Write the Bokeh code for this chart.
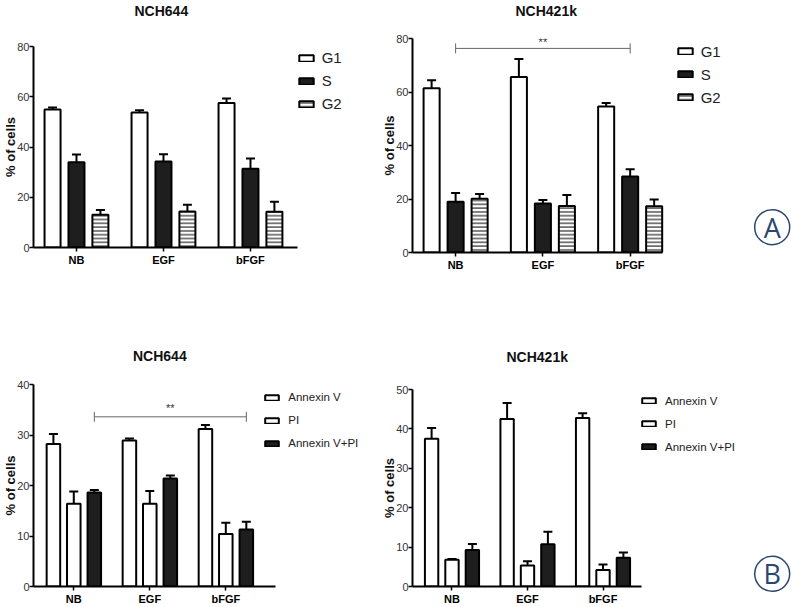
from bokeh.plotting import figure
from bokeh.models import (ColumnDataSource, Whisker, TeeHead, Legend, LegendItem, Label,
                          FixedTicker, Range1d, Title)
from bokeh.layouts import row, column
from bokeh.embed import file_html
from bokeh.resources import INLINE
from bokeh.core.properties import value

# ---------------- data ----------------
groups = ["NB", "EGF", "bFGF"]

cycle_names = ["G1", "S", "G2"]
nch644_g1 = [54.9, 53.7, 57.5]
nch644_g1_err = [0.8, 0.9, 1.8]
nch644_s = [33.9, 34.2, 31.3]
nch644_s_err = [3.1, 2.9, 4.1]
nch644_g2 = [13.0, 14.3, 14.2]
nch644_g2_err = [1.9, 2.7, 4.0]

nch421k_g1 = [61.4, 65.6, 54.6]
nch421k_g1_err = [3.0, 6.7, 1.3]
nch421k_s = [19.0, 18.3, 28.4]
nch421k_s_err = [3.2, 1.3, 2.7]
nch421k_g2 = [20.1, 17.4, 17.3]
nch421k_g2_err = [1.8, 4.1, 2.5]

apop_names = ["Annexin V", "PI", "Annexin V+PI"]
nch644_annv = [28.2, 28.9, 31.2]
nch644_annv_err = [2.0, 0.4, 0.8]
nch644_pi = [16.4, 16.4, 10.4]
nch644_pi_err = [2.4, 2.5, 2.2]
nch644_annvpi = [18.6, 21.4, 11.3]
nch644_annvpi_err = [0.5, 0.6, 1.5]

nch421k_annv = [37.5, 42.5, 42.75]
nch421k_annv_err = [2.7, 4.1, 1.25]
nch421k_pi = [6.8, 5.3, 4.2]
nch421k_pi_err = [0.2, 1.1, 1.4]
nch421k_annvpi = [9.25, 10.75, 7.3]
nch421k_annvpi_err = [1.55, 3.15, 1.3]

# significance brackets: (from x, to x, y, label)
sig_cycle_nch421k = (0.0, 2.0, 76.3, "**")
sig_apop_nch644 = (0.27, 2.27, 33.6, "**")

panel_letters = ["A", "B"]

# ---------------- style ----------------
FONT = "Liberation Sans"
BLACK = "#1e1e1e"
NAVY = "#2b4670"


def build_panel(title, names, vals, errs, fills, hatches, offsets, bar_w, y_max, y_step,
                width, height, borders, x_rng, axis_end, legend_loc, glyph_wh,
                legend_font_size, legend_standoff, title_offset, title_gap,
                sig=None, sig_offset=1):
    left, top, bottom = borders
    p = figure(width=width, height=height, x_range=Range1d(*x_rng), y_range=Range1d(0, y_max),
               output_backend="svg", toolbar_location=None,
               min_border_left=left, min_border_right=0,
               min_border_top=top, min_border_bottom=bottom)
    p.outline_line_color = None
    p.grid.visible = False
    p.background_fill_color = "white"
    p.border_fill_color = "white"
    # spacer between frame and title, then the title itself
    p.add_layout(Title(text=" ", text_font_size="1px", standoff=title_gap - 1,
                       text_color="white"), "above")
    p.add_layout(Title(text=title, align="left", offset=title_offset, standoff=0,
                       text_font=FONT, text_font_style="bold", text_font_size="14px",
                       text_color="#111111", vertical_align="bottom"), "above")

    items = []
    for name, v, e, fill, hatch, off in zip(names, vals, errs, fills, hatches, offsets):
        xs = [i + off for i in range(len(groups))]
        src = ColumnDataSource(dict(x=xs, top=v, upper=[a + b for a, b in zip(v, e)]))
        kw = {}
        if hatch:
            kw = dict(hatch_pattern=hatch, hatch_color="black", hatch_scale=3.8, hatch_weight=1)
        r = p.vbar(x="x", top="top", bottom=0, width=bar_w, source=src, fill_color=fill,
                   line_color="black", line_width=2, **kw)
        wh = Whisker(source=src, base="x", lower="top", upper="upper", lower_head=None,
                     upper_head=TeeHead(size=9, line_width=2, line_color="black"),
                     line_width=2, line_color="black", level="annotation")
        p.add_layout(wh)
        items.append(LegendItem(label=name, renderers=[r]))

    legend = Legend(items=items, location=legend_loc, padding=0, margin=0, spacing=6,
                    label_height=17, glyph_width=glyph_wh[0], glyph_height=glyph_wh[1],
                    label_standoff=legend_standoff, label_text_font=FONT,
                    label_text_font_size=legend_font_size, label_text_color="#222222",
                    background_fill_alpha=0, border_line_alpha=0)
    p.add_layout(legend)

    xa = p.xaxis[0]
    xa.bounds = (x_rng[0], axis_end)
    xa.ticker = FixedTicker(ticks=list(range(len(groups))))
    xa.major_label_overrides = {i: g for i, g in enumerate(groups)}
    xa.major_label_text_font = FONT
    xa.major_label_text_font_style = "bold"
    xa.major_label_text_font_size = "11px"
    xa.major_label_text_color = "black"
    xa.major_label_standoff = 2

    ya = p.yaxis[0]
    ya.ticker = FixedTicker(ticks=list(range(0, y_max + 1, y_step)))
    ya.major_label_text_font = FONT
    ya.major_label_text_font_size = "11px"
    ya.major_label_text_color = "#333333"
    ya.major_label_standoff = 0
    ya.axis_label = "% of cells"
    ya.axis_label_text_font = FONT
    ya.axis_label_text_font_style = "bold"
    ya.axis_label_text_font_size = "13px"
    ya.axis_label_text_color = "#111111"
    ya.axis_label_standoff = -4

    for ax in (xa, ya):
        ax.axis_line_width = 2
        ax.axis_line_color = "black"
        ax.major_tick_line_width = 1.5
        ax.major_tick_line_color = "black"
        ax.major_tick_out = 4
        ax.major_tick_in = 0
        ax.minor_tick_line_color = None

    if sig is not None:
        x0, x1, yv, txt = sig
        ssrc = ColumnDataSource(dict(y=[yv], lo=[x0], hi=[x1]))
        p.add_layout(Whisker(source=ssrc, dimension="width", base="y", lower="lo", upper="hi",
                             line_color="#666666", line_width=1, level="annotation",
                             lower_head=TeeHead(size=10, line_color="#666666", line_width=1),
                             upper_head=TeeHead(size=10, line_color="#666666", line_width=1)))
        p.add_layout(Label(x=(x0 + x1) / 2, y=yv, y_offset=sig_offset, text=txt,
                           text_align="center", text_baseline="alphabetic",
                           text_font=FONT, text_font_size="11px", text_color="#333333"))
    return p


def letter_fig(letter, width, height, cx, cy):
    p = figure(width=width, height=height, x_range=Range1d(0, width), y_range=Range1d(0, height),
               output_backend="svg", toolbar_location=None, min_border=0,
               x_axis_location=None, y_axis_location=None)
    p.outline_line_color = None
    p.grid.visible = False
    p.scatter(x=[cx], y=[cy], marker="circle", size=35, fill_color=None,
              line_color=NAVY, line_width=1.5)
    p.text(x=[cx], y=[cy], text=[letter], text_align="center", text_baseline="middle",
           text_font=value("Open Sans"), text_font_size="27px", text_color=NAVY)
    return p


cycle_fills = ["white", BLACK, "white"]
apop_fills = ["white", "white", BLACK]

p1 = build_panel("NCH644", cycle_names,
                 [nch644_g1, nch644_s, nch644_g2],
                 [nch644_g1_err, nch644_s_err, nch644_g2_err],
                 cycle_fills, [None, None, "horizontal_line"], [-0.275, 0.0, 0.275], 0.184,
                 80, 20, 379, 345, (33, 44, 98), (-0.494, 3.483), 2.540,
                 (263.7, 134.7), (18, 8), "15px", 7, 101, 26)

p2 = build_panel("NCH421k", cycle_names,
                 [nch421k_g1, nch421k_s, nch421k_g2],
                 [nch421k_g1_err, nch421k_s_err, nch421k_g2_err],
                 cycle_fills, [None, None, "horizontal_line"], [-0.275, 0.0, 0.275], 0.184,
                 80, 20, 369, 345, (33, 36, 93), (-0.494, 3.356), 2.376,
                 (263.7, 146.5), (18, 8), "15px", 7, 103, 18,
                 sig=sig_cycle_nch421k, sig_offset=6)

p3 = build_panel("NCH644", apop_names,
                 [nch644_annv, nch644_pi, nch644_annvpi],
                 [nch644_annv_err, nch644_pi_err, nch644_annvpi_err],
                 apop_fills, [None, None, None], [-0.268, 0.0, 0.27], 0.178,
                 40, 10, 379, 262, (33, 39, 20), (-0.530, 4.022), 2.654,
                 (230.3, 134.5), (17, 7), "11.5px", 8, 99.5, 18.7,
                 sig=sig_apop_nch644, sig_offset=9)

p4 = build_panel("NCH421k", apop_names,
                 [nch421k_annv, nch421k_pi, nch421k_annvpi],
                 [nch421k_annv_err, nch421k_pi_err, nch421k_annvpi_err],
                 apop_fills, [None, None, None], [-0.27, 0.0, 0.27], 0.177,
                 50, 10, 369, 262, (33, 44, 19), (-0.523, 3.927), 2.506,
                 (228, 130.8), (17, 7), "11.5px", 8, 94, 22.7)

pa = letter_fig(panel_letters[0], 44, 345, 23.7, 118.3)
pb = letter_fig(panel_letters[1], 44, 262, 23.7, 33.7)

layout = column(row(column(p1), column(p2), column(pa)),
                row(column(p3), column(p4), column(pb)))

open("out.html", "w").write(file_html(layout, INLINE))
